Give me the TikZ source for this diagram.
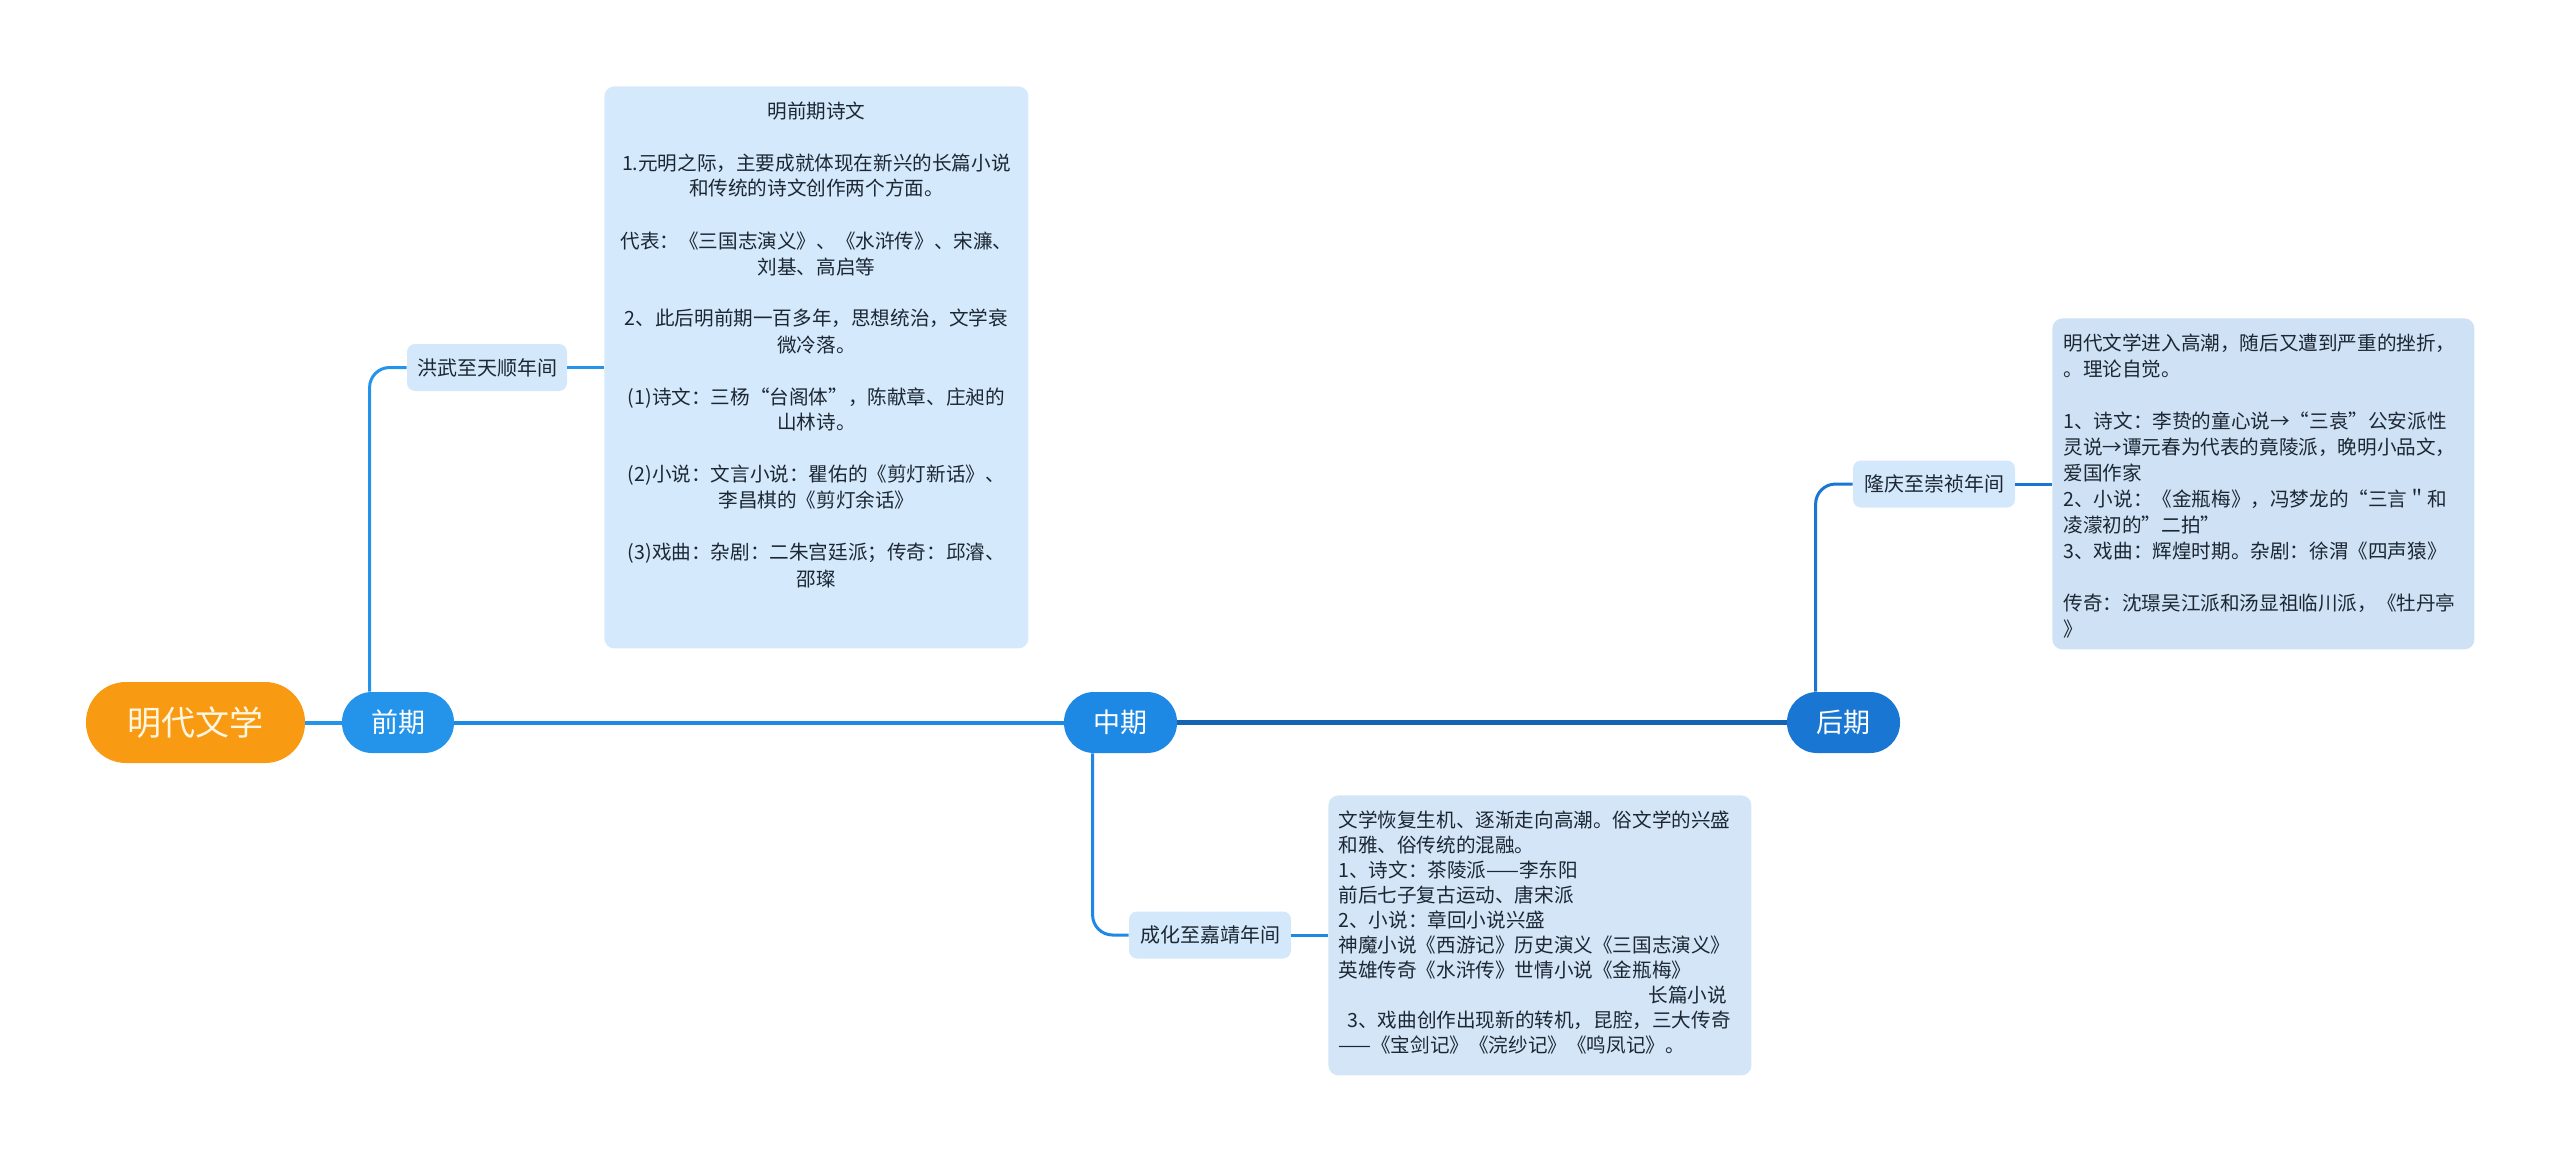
\documentclass[tikz,border=0pt]{standalone}
\usepackage{fontspec}
\setmainfont{Noto Sans CJK SC}
\usepackage{tikz}
\usetikzlibrary{positioning,calc}

\definecolor{rootorange}{HTML}{F89A12}
\definecolor{roottext}{HTML}{FFF6E2}
\definecolor{qianblue}{HTML}{2494EA}
\definecolor{zhongblue}{HTML}{1E88E5}
\definecolor{houblue}{HTML}{1976D2}
\definecolor{erafill}{HTML}{D3E8FB}
\definecolor{boxfillA}{HTML}{D4E9FB}
\definecolor{boxfillB}{HTML}{D3E5F7}
\definecolor{boxfillC}{HTML}{CFE1F4}
\definecolor{inktext}{HTML}{1C2733}

\tikzset{
  rootnode/.style={fill=rootorange, text=roottext, rounded corners=20pt,
    minimum width=109.5pt, minimum height=40.5pt, inner sep=0pt,
    font=\fontsize{17}{19}\selectfont},
  period/.style={text=white, rounded corners=15pt, minimum height=30.5pt,
    inner sep=0pt, font=\fontsize{13.5}{15}\selectfont},
  era/.style={fill=erafill, text=inktext, rounded corners=4pt,
    minimum width=81pt, minimum height=23.5pt, inner sep=0pt,
    font=\fontsize{10}{12}\selectfont},
  infobox/.style={text=inktext, rounded corners=5pt, inner xsep=5.5pt,
    inner ysep=7.5pt, anchor=north west},
  trunk/.style={line width=2pt},
  branch/.style={line width=1.5pt, rounded corners=10pt}
}

\begin{document}
\begin{tikzpicture}[x=0.5pt, y=-0.5pt]
% 1px of the layout = 0.5pt, y grows downwards
\useasboundingbox (0,0) rectangle (2560,1161);

%% --- Root and the three periods -------------------------------
\node[rootnode] (ming) at (195.5,722.5) {明代文学};
\node[period, fill=qianblue, minimum width=56pt] (qianqi) at (398,722.5) {前期};
\node[period, fill=zhongblue, minimum width=56.5pt] (zhongqi) at (1120.5,722.5) {中期};
\node[period, fill=houblue, minimum width=56.5pt] (houqi) at (1843.5,722.5) {后期};

%% --- Era labels -----------------------------------------------
\node[era, minimum width=80pt] (hongwu) at (487,367.5) {洪武至天顺年间};
\node[era] (chenghua) at (1210,935) {成化至嘉靖年间};
\node[era] (longqing) at (1934,484) {隆庆至崇祯年间};

%% --- Detail boxes ---------------------------------------------
\node[infobox, fill=boxfillA] (qianbox) at (604,86)
  {\parbox[t][266pt][t]{201pt}{\centering\fontsize{9.8}{13}\selectfont
明前期诗文\\[13pt]
1.元明之际，主要成就体现在新兴的长篇小说\\
和传统的诗文创作两个方面。\\[13pt]
代表：《三国志演义》、《水浒传》、宋濂、\\
刘基、高启等\\[13pt]
2、此后明前期一百多年，思想统治，文学衰\\
微冷落。\\[13pt]
(1)诗文：三杨“台阁体”，陈献章、庄昶的\\
山林诗。\\[13pt]
(2)小说：文言小说：瞿佑的《剪灯新话》、\\
李昌棋的《剪灯余话》\\[13pt]
(3)戏曲：杂剧：二朱宫廷派；传奇：邱濬、\\
邵璨}};

\node[infobox, fill=boxfillB, inner xsep=5pt] (zhongbox) at (1328,795)
  {\parbox[t][125pt][t]{201.5pt}{\raggedright\fontsize{9.8}{12.5}\selectfont
文学恢复生机、逐渐走向高潮。俗文学的兴盛\\
和雅、俗传统的混融。\\
1、诗文：茶陵派——李东阳\\
前后七子复古运动、唐宋派\\
2、小说：章回小说兴盛\\
神魔小说《西游记》历史演义《三国志演义》\\
英雄传奇《水浒传》世情小说《金瓶梅》\\
\hspace*{155pt}长篇小说\\
\hspace*{4.5pt}3、戏曲创作出现新的转机，昆腔，三大传奇\\
——《宝剑记》《浣纱记》《鸣凤记》。}};

\node[infobox, fill=boxfillC] (houbox) at (2052,318)
  {\parbox[t][150.5pt][t]{200pt}{\raggedright\fontsize{9.8}{13}\selectfont
明代文学进入高潮，随后又遭到严重的挫折，\\
。理论自觉。\\[13pt]
1、诗文：李贽的童心说→“三袁”公安派性\\
灵说→谭元春为代表的竟陵派，晚明小品文，\\
爱国作家\\
2、小说：《金瓶梅》，冯梦龙的“三言＂和\\
凌濛初的”二拍”\\
3、戏曲：辉煌时期。杂剧：徐渭《四声猿》\\[13pt]
传奇：沈璟吴江派和汤显祖临川派，《牡丹亭\\
》}};

%% --- Trunk ----------------------------------------------------
\draw[trunk, qianblue] (ming.east) -- (qianqi.west);
\draw[trunk, zhongblue] (qianqi.east) -- (zhongqi.west);
\draw[trunk, line width=2.5pt, houblue!85!black] (zhongqi.east) -- (houqi.west);

%% --- Branches -------------------------------------------------
\draw[branch, qianblue] ([xshift=14pt]qianqi.north west) |- (hongwu.west);
\draw[branch, qianblue] (hongwu.east) -- (hongwu.east -| qianbox.west);

\draw[branch, zhongblue] ([xshift=14.5pt]zhongqi.south west) |- (chenghua.west);
\draw[branch, zhongblue] (chenghua.east) -- (chenghua.east -| zhongbox.west);

\draw[branch, houblue] ([xshift=14.5pt]houqi.north west) |- (longqing.west);
\draw[branch, houblue] (longqing.east) -- (longqing.east -| houbox.west);

\end{tikzpicture}
\end{document}
